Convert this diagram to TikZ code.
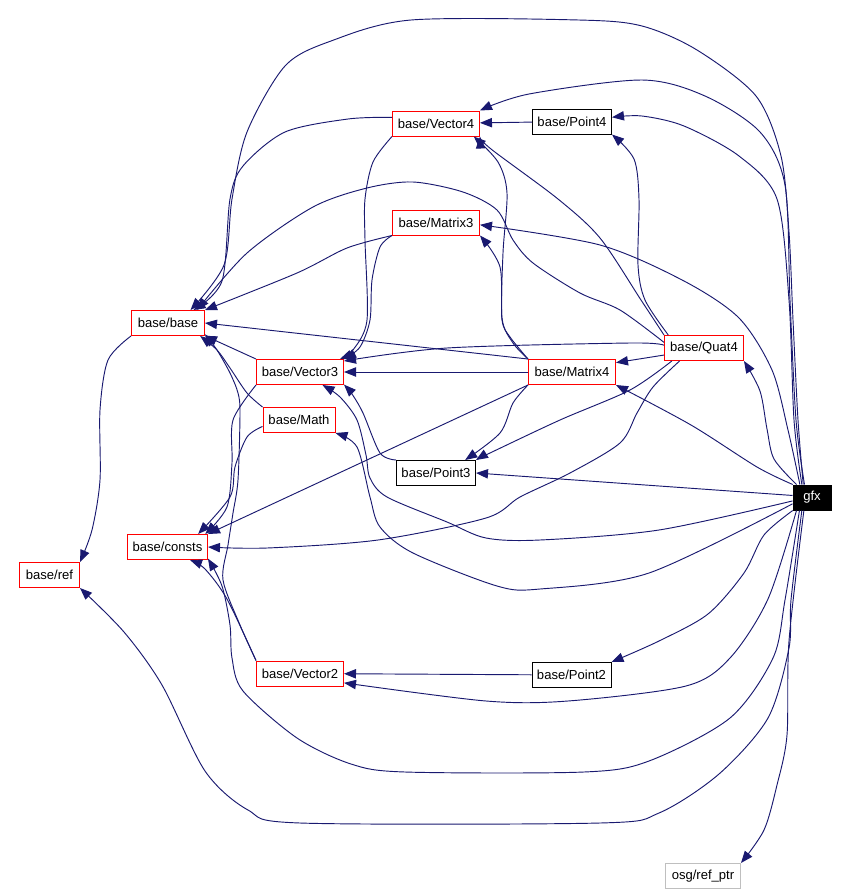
\documentclass[tikz,border=0pt]{standalone}
\usepackage{fontspec}
\setmainfont{Liberation Sans}
\usetikzlibrary{arrows.meta}
\definecolor{EdgeBlue}{RGB}{25,25,112}
\definecolor{PaleGray}{RGB}{191,191,191}

\begin{document}
\begin{tikzpicture}[
    x=0.75pt, y=-0.75pt,
    >={Triangle[length=9pt,width=7pt]},
    box/.style={rectangle, draw=#1, fill=white, inner sep=0pt,
                minimum height=18.75pt, font=\fontsize{9.8}{11}\selectfont,
                text=black, line width=0.75pt},
    box/.default=red,
    arr/.style={->, draw=EdgeBlue, fill=none, line width=0.7pt},
]
\path[use as bounding box, fill=white] (0,0) rectangle (848,894);

% ── Files ──
\node[box, minimum width=65.25pt] (vec4) at (436,123.5) {base/Vector4};
\node[box=black, minimum width=59.25pt] (pt4) at (572,121.5) {base/Point4};
\node[box, minimum width=65.25pt] (mat3) at (436,222.5) {base/Matrix3};
\node[box, minimum width=54.75pt] (base) at (168,323) {base/base};
\node[box, minimum width=65.25pt] (vec3) at (300,372) {base/Vector3};
\node[box, minimum width=54pt] (math) at (299,420) {base/Math};
\node[box, minimum width=65.25pt] (mat4) at (572,372) {base/Matrix4};
\node[box, minimum width=59.25pt] (quat4) at (704,348) {base/Quat4};
\node[box=black, minimum width=59.25pt] (pt3) at (436,473) {base/Point3};
\node[box=black, fill=black, text=white, minimum width=28.5pt] (gfx) at (812,497.5) {gfx};
\node[box, minimum width=60pt] (consts) at (167.5,547) {base/consts};
\node[box, minimum width=45pt] (ref) at (49.5,575) {base/ref};
\node[box, minimum width=65.25pt] (vec2) at (300,673.5) {base/Vector2};
\node[box=black, minimum width=59.25pt] (pt2) at (571.5,675) {base/Point2};
\node[box=PaleGray, minimum width=56.25pt] (refptr) at (703,876) {osg/ref\_ptr};

% ── Straight includes ──
\draw[arr] (pt4) -- (vec4);
\draw[arr] (mat4) -- (vec3);
\draw[arr] (pt2) -- (vec2);
\draw[arr] (gfx.174) -- (pt3.east);
\draw[arr] (quat4.190) -- (mat4.12);
\draw[arr] (mat4.north west) -- (base.east);
\draw[arr] (vec3.north west) -- (base.-19);
\draw[arr] (mat4.south west) -- (consts.north east);

% ── Into base/Vector4 and base/Point4 ──
\draw[arr] plot[smooth] coordinates {(mat4.north west) (513,343) (502,318) (503,253) (507,193) (498,162) (vec4.-19)};
\draw[arr] plot[smooth] coordinates {(quat4.north west) (641,300) (600,238) (558,199) (491,149) (vec4.south east)};
\draw[arr] plot[smooth] coordinates {(gfx.120) (796,420) (790,300) (785,185) (760,132) (705,96) (642,80) (529,94) (vec4.north east)};
\draw[arr] plot[smooth] coordinates {(quat4.160) (645,300) (638,265) (639,199) (634,159) (pt4.south east)};
\draw[arr] plot[smooth] coordinates {(gfx.128) (794,420) (789,300) (777,199) (739,156) (684,126) (642,116) (pt4.6)};

% ── Out of base/Vector4 ──
\draw[arr] plot[smooth] coordinates {(vec4.172) (348,119) (285,132) (243,166) (230,199) (222,281) (base.27)};
\draw[arr] plot[smooth] coordinates {(vec4.south west) (373,162) (365,199) (365,240) (367,320) (353,350) (vec3.18)};

% ── base/Matrix3 ──
\draw[arr] plot[smooth] coordinates {(mat3.south west) (347,248) (297,273) (base.north east)};
\draw[arr] plot[smooth] coordinates {(mat3.south west) (380,247) (372,280) (370,320) (360,347) (vec3.north east)};
\draw[arr] plot[smooth] coordinates {(mat4.north west) (510,337) (502,320) (500,267) (mat3.south east)};
\draw[arr] plot[smooth] coordinates {(gfx.133) (788,430) (772,370) (739,318) (684,281) (600,245) (mat3.-3)};

% ── Long arcs into base/base ──
\draw[arr] plot[smooth] coordinates {(gfx.124) (798,420) (793,320) (789,232) (781,156) (756,96) (697,50) (642,26) (579,20) (411,20) (331,41) (285,66) (247,132) (232,199) (224,265) (base.30)};
\draw[arr] plot[smooth] coordinates {(quat4.172) (620,310) (580,293) (533,263) (513,240) (497,210) (463,192) (413,182) (367,188) (313,207) (247,253) (base.24)};
\draw[arr] plot[smooth] coordinates {(math.north west) (247,393) (230,368) (217,350) (base.-22)};
\draw[arr] plot[smooth] coordinates {(vec2.north west) (240,625) (223,580) (228,545) (233,513) (238,480) (240,413) (238,393) (230,373) (217,350) (base.-17)};
\draw[arr] plot[smooth] coordinates {(base.south west) (108,360) (100,410) (100,480) (92,530) (ref.north east)};

% ── Into base/Vector3 ──
\draw[arr] plot[smooth] coordinates {(quat4.176) (630,343) (447,348) (vec3.14)};
\draw[arr] plot[smooth] coordinates {(pt3.north west) (380,453) (363,413) (352,394) (vec3.-16)};
\draw[arr] plot[smooth] coordinates {(gfx.190) (659,530) (540,540) (486,538) (447,522) (387,497) (370,478) (366,455) (357,420) (340,397) (vec3.-30)};

% ── Into base/consts and base/Math ──
\draw[arr] plot[smooth] coordinates {(vec3.south west) (233,420) (232,463) (227,507) (consts.19)};
\draw[arr] plot[smooth] coordinates {(math.190) (247,437) (235,467) (230,497) (consts.23)};
\draw[arr] plot[smooth] coordinates {(gfx.198) (649,573) (540,589) (497,586) (413,553) (380,527) (370,497) (357,447) (math.south east)};
\draw[arr] plot[smooth] coordinates {(quat4.-152) (653,387) (637,413) (620,443) (570,473) (520,497) (486,518) (378,540) (267,548) (consts.east)};
\draw[arr] plot[smooth] coordinates {(vec2.north west) (227,599) (205,569) (consts.-30)};

% ── Into base/Point3 ──
\draw[arr] plot[smooth] coordinates {(mat4.south west) (513,403) (500,433) (pt3.24)};
\draw[arr] plot[smooth] coordinates {(quat4.-158) (630,390) (560,420) (490,453) (pt3.north east)};

% ── gfx to the right-hand files ──
\draw[arr] plot[smooth] coordinates {(gfx.146) (757,467) (691,425) (mat4.south east)};
\draw[arr] plot[smooth] coordinates {(gfx.140) (774,459) (767,429) (760,391) (quat4.south east)};

% ── gfx down and round the bottom ──
\draw[arr] plot[smooth] coordinates {(gfx.-146) (764,535) (744,573) (708,614) (659,641) (pt2.north east)};
\draw[arr] plot[smooth] coordinates {(gfx.-140) (768,599) (730,658) (686,686) (568,701) (486,701) (vec2.-12)};
\draw[arr] plot[smooth] coordinates {(gfx.-134) (785,600) (773,658) (730,718) (649,761) (584,772) (405,772) (351,764) (297,738) (243,691) (232,658) (230,625) (222,586) (consts.-16)};
\draw[arr] plot[smooth] coordinates {(gfx.-128) (791,600) (789,648) (768,718) (719,774) (659,813) (600,823) (300,823) (248,810) (205,771) (162,685) (124,632) (ref.south east)};
\draw[arr] plot[smooth] coordinates {(gfx.-122) (789,641) (787,735) (777,785) (764,830) (refptr.north east)};

\end{tikzpicture}
\end{document}
